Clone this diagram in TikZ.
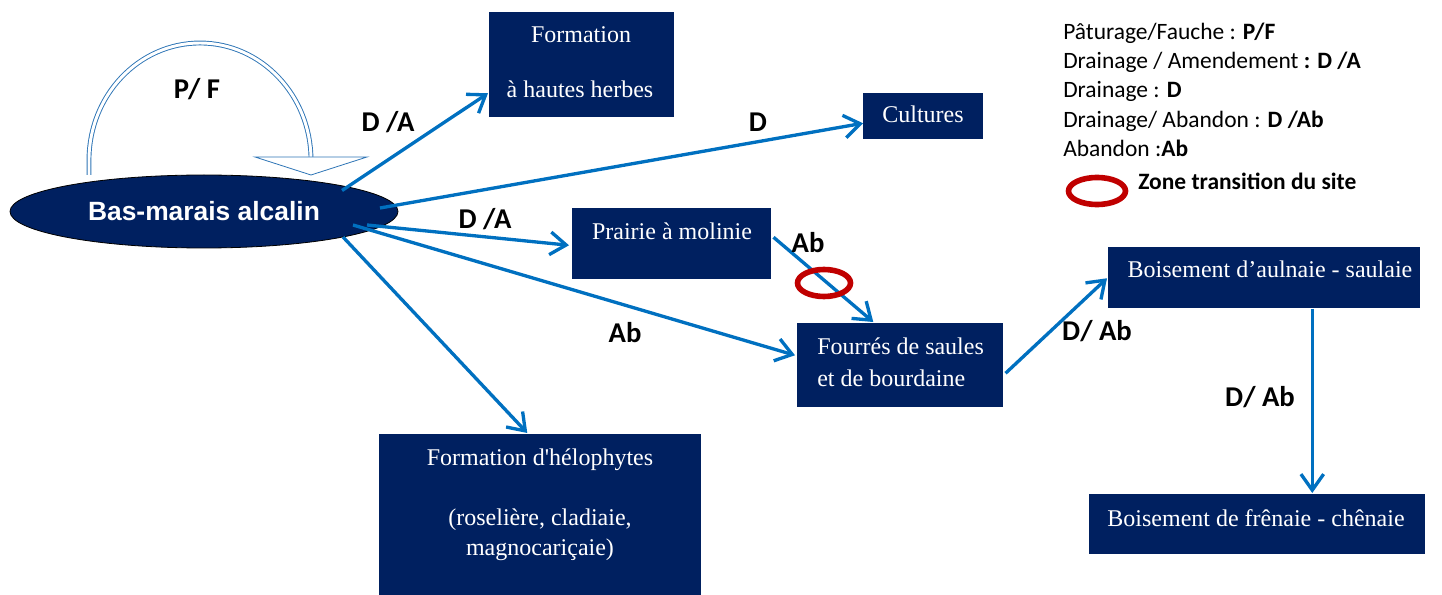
\documentclass[tikz,border=0pt]{standalone}
\usepackage{fontspec}
\setmainfont{Liberation Serif}[Ligatures=TeXOff]
\newfontfamily\labfont{Carlito}
\newfontfamily\arialfont{Liberation Sans}
\usetikzlibrary{arrows.meta,shapes.geometric,calc}
\definecolor{navy}{HTML}{002060}
\definecolor{arrblue}{HTML}{0070C0}
\definecolor{loopblue}{HTML}{2E75B6}
\definecolor{zonered}{HTML}{C00000}
\tikzset{
  box/.style={fill=navy, draw=none, inner sep=0pt, anchor=north west},
  bw/.style={minimum width={#1*0.75pt}},
  bh/.style={minimum height={#1*0.75pt}},
  boxtext/.style={text=white, inner sep=0pt, anchor=base, font=\fontsize{18}{22}\selectfont},
  lab/.style={inner sep=0pt, anchor=base, font=\labfont\bfseries\fontsize{21.5}{26}\selectfont},
  legend/.style={inner sep=0pt, anchor=base west, font=\labfont\fontsize{17.6}{21}\selectfont},
  conn/.style={draw=arrblue, line width=2.5pt, -{Straight Barb[length=12pt,width=17pt]}},
  loopline/.style={draw=loopblue, line width=0.7pt, double=white, double distance=2.2pt},
  zone/.style={draw=zonered, line width=4.2pt},
}
\begin{document}
\begin{tikzpicture}[x=0.75pt,y=-0.75pt]
\useasboundingbox (0,0) rectangle (1442,595);
% central ellipse
\node[ellipse, fill=navy, draw=black, line width=0.6pt, inner sep=0pt,
      bw=388, bh=73, text=white,
      font=\arialfont\bfseries\fontsize{19.8}{24}\selectfont] (ell) at (204,211.5) {Bas-marais alcalin};
% boxes
\node[box, bw=185, bh=105] (b1) at (489,12) {};
\node[boxtext] (b1t1) at (581,43) {Formation};
\node[boxtext] (b1t2) at (580,98) {à hautes herbes};
\node[box, bw=120, bh=46] (cult) at (863,93) {};
\node[boxtext] (cultt) at (923,123) {Cultures};
\node[box, bw=199, bh=71] (prai) at (572,208) {};
\node[boxtext] (prait) at (672,240) {Prairie à molinie};
\node[box, bw=206, bh=84] (four) at (797,323) {};
\node[boxtext, anchor=base west] (fourt1) at (817,354) {Fourrés de saules};
\node[boxtext, anchor=base west] (fourt2) at (817,386) {et de bourdaine};
\node[box, bw=312, bh=61] (auln) at (1108,247) {};
\node[boxtext] (aulnt) at (1270,278) {Boisement d’aulnaie - saulaie};
\node[box, bw=336, bh=60] (fren) at (1089,494) {};
\node[boxtext] (frent) at (1256,526) {Boisement de frênaie - chênaie};
\node[box, bw=322, bh=161] (helo) at (379,434) {};
\node[boxtext] (helot1) at (540,465) {Formation d'hélophytes};
\node[boxtext] (helot2) at (540,525) {(roselière, cladiaie,};
\node[boxtext] (helot3) at (540,555) {magnocariçaie)};
% self loop
\coordinate (loopstart) at ([shift={(-115,-36.5)}]ell.center);
\coordinate (loopend) at ([shift={(107,-54.5)}]ell.center);
\draw[loopline] (loopstart) -- ++(0,-15) arc[start angle=180,end angle=360,x radius=111,y radius=117] -- (loopend);
\draw[loopblue, line width=0.6pt, fill=white] ([shift={(-56,0)}]loopend) -- ([shift={(56,0)}]loopend) -- ([shift={(0,18)}]loopend) -- cycle;
\node[lab] (lpf) at (197,99) {P/ F};
% connectors
\draw[conn] ([shift={(138,-21)}]ell.center) -- ([shift={(-1,28.5)}]b1.west);
\draw[conn] ([shift={(176,-3.5)}]ell.center) -- ([shift={(0,7)}]cult.west);
\draw[conn] ([shift={(163,13.5)}]ell.center) -- ([shift={(-3,1.5)}]prai.west);
\draw[conn] ([shift={(149,13.5)}]ell.center) -- ([shift={(-2,-10)}]four.west);
\draw[conn] ([shift={(139,25.5)}]ell.center) -- ([shift={(-13,-1)}]helo.north);
\draw[conn] ([shift={(2,-6.5)}]prai.east) -- ([shift={(-27,-1)}]four.north);
\draw[conn] ([shift={(2,8)}]four.east) -- ([shift={(-1,0.5)}]auln.west);
\draw[conn] ([shift={(48,0)}]auln.south) -- ([shift={(55,-1)}]fren.north);
% red zone
\draw[zone] (824,283) ellipse[x radius=26.5, y radius=13.5];
% labels
\node[lab] (l1) at (388,132) {D /A};
\node[lab] (l2) at (758,132) {D};
\node[lab] (l3) at (485,229) {D /A};
\node[lab] (l4) at (625,342) {Ab};
\node[lab] (l5) at (808,253) {Ab};
\node[lab] (l6) at (1097,340) {D/ Ab};
\node[lab] (l7) at (1260,406) {D/ Ab};
% legend
\node[legend] (g1) at (1063,40) {Pâturage/Fauche : \textbf{P/F}};
\node[legend] (g2) at (1063,69) {Drainage / Amendement \textbf{: D /A}};
\node[legend] (g3) at (1063,98) {Drainage : \textbf{D}};
\node[legend] (g4) at (1063,128) {Drainage/ Abandon : \textbf{D /Ab}};
\node[legend] (g5) at (1063,157) {Abandon :\textbf{Ab}};
\draw[zone] (1097,191) ellipse[x radius=28.5, y radius=13.5];
\node[legend, font=\labfont\bfseries\fontsize{17.6}{21}\selectfont] (g6) at (1138,190) {Zone transition du site};
\end{tikzpicture}
\end{document}
